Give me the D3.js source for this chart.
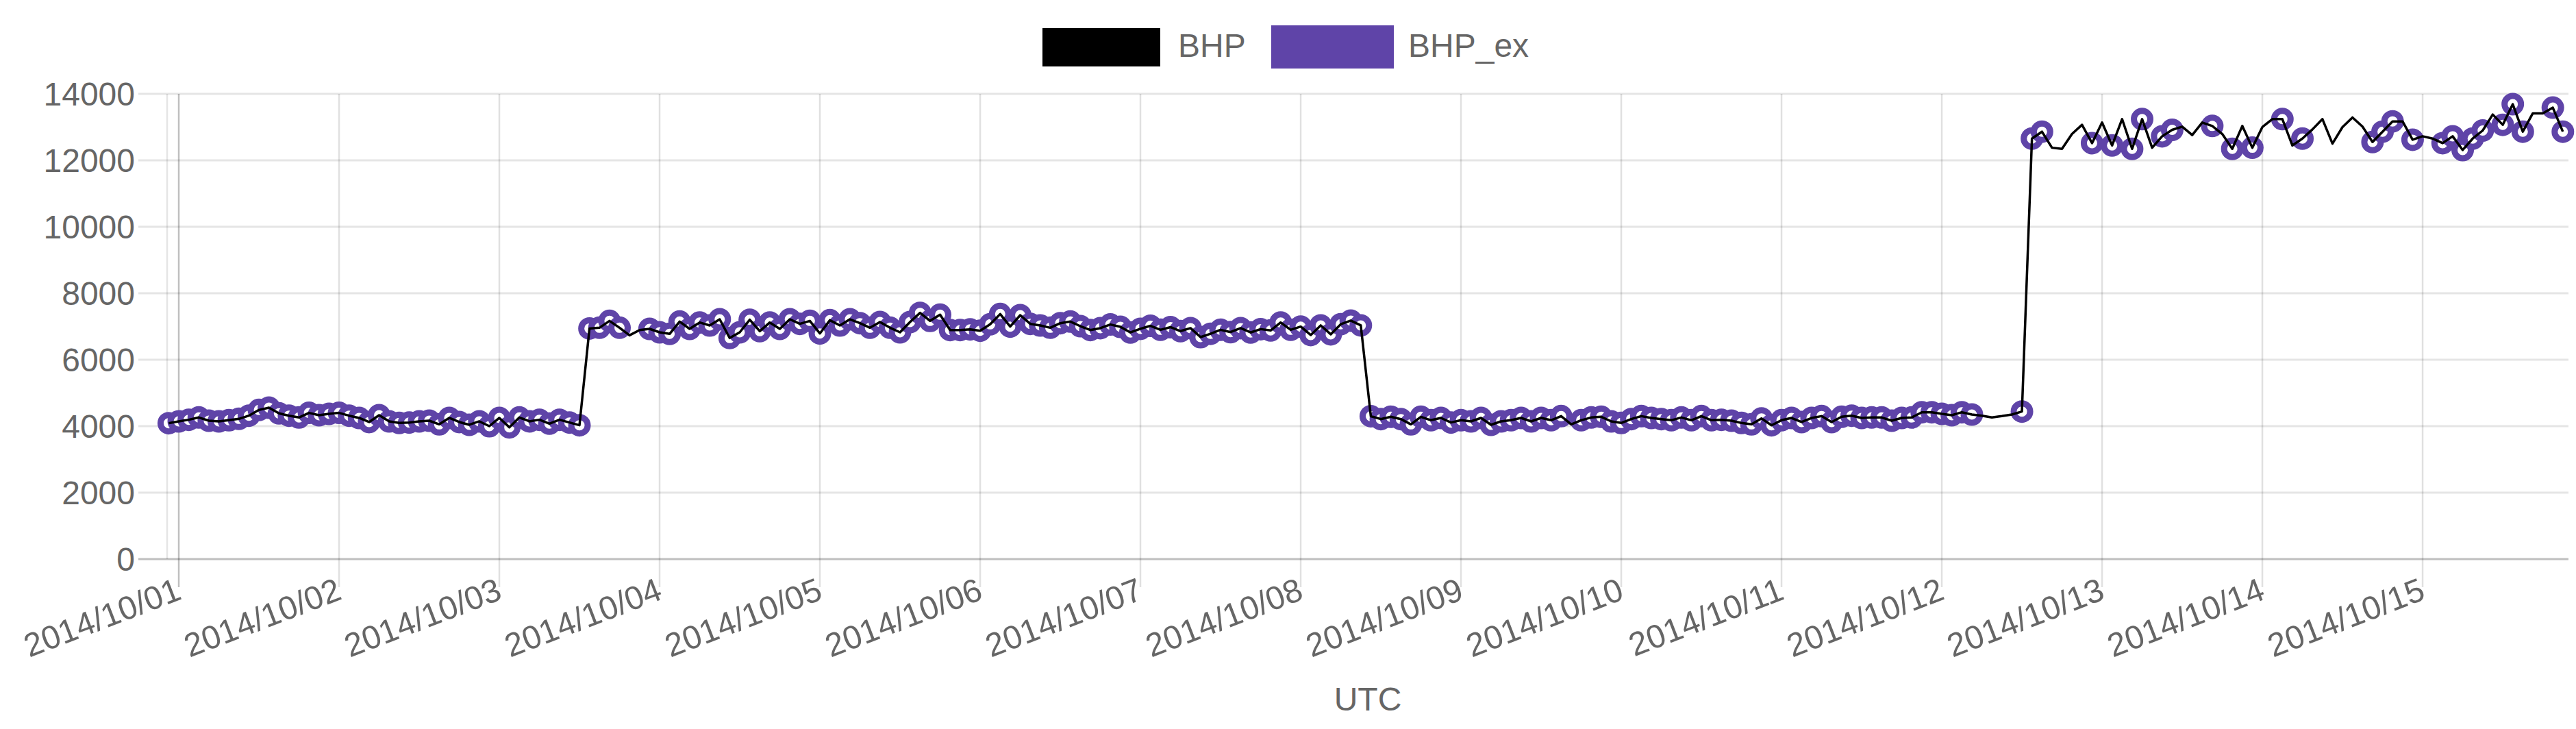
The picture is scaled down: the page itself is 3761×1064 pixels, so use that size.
<!DOCTYPE html>
<html>
<head>
<meta charset="utf-8">
<script src="https://cdn.jsdelivr.net/npm/d3@7"></script>
<style>
  html, body { margin: 0; padding: 0; background: #fff; }
  svg { display: block; font-family: "Liberation Sans", Arial, Helvetica, sans-serif; }
</style>
</head>
<body>
<svg id="chart" width="3761" height="1064"></svg>
<script>
// ---------------- data ----------------
const seriesNames = ["BHP", "BHP_ex"];
const seriesColors = ["#000000", "#5f44a8"];
const startTime = "2014-09-30T22:30:00Z";   // first sample (UTC)
const stepHours = 1.5;                       // sampling interval
const yTicks = [0, 2000, 4000, 6000, 8000, 10000, 12000, 14000];
const xTickLabels = ["2014/10/01","2014/10/02","2014/10/03","2014/10/04","2014/10/05",
  "2014/10/06","2014/10/07","2014/10/08","2014/10/09","2014/10/10","2014/10/11",
  "2014/10/12","2014/10/13","2014/10/14","2014/10/15"];
const xAxisTitle = "UTC";

const bhp = [
  4090,4145,4193,4262,4165,4145,4180,4220,4316,4488,
  4557,4385,4316,4262,4400,4330,4372,4400,4316,4248,
  4125,4330,4145,4097,4110,4145,4165,4055,4248,4125,
  4042,4145,4000,4248,3966,4262,4145,4193,4076,4193,
  4110,4028,
  6940,6962,7168,6962,6735,6893,6928,6825,6777,7148,
  6928,7120,7031,7216,6653,6825,7203,6859,7120,6928,
  7216,7079,7168,6790,7189,7031,7216,7100,6962,7134,
  6962,6825,7134,7409,7168,7354,6893,6893,6914,6873,
  7065,7374,6996,7340,7079,7031,6962,7100,7148,7010,
  6893,
  6950,7060,6990,6820,6930,7020,6900,6980,6860,6950,
  6680,6780,6900,6830,6950,6820,6920,6880,7120,6900,
  6996,6744,7032,6765,7068,7177,7032,
  4300,4213,4282,4213,4055,4282,4179,4247,4110,4179,
  4144,4247,4041,4144,4179,4247,4144,4247,4179,4302,
  4055,4179,4261,4282,4144,4096,4213,4302,4247,4213,
  4179,4261,4179,4302,4179,4192,4165,4096,4055,4234,
  4027,4179,4247,4124,4247,4302,4124,4282,4316,4247,
  4261,4261,4165,4247,4261,4419,4419,4371,4330,4419,
  4350,4316,4261,4302,4350,4440,
  12655,12862,12379,12345,12793,13069,12517,13138,12448,13241,
  12345,13241,12379,12724,12917,13014,12759,13138,13034,12793,
  12345,13034,12379,13000,13241,13241,12448,12655,12931,13241,
  12503,13000,13290,13014,12552,12862,13172,13172,12621,12724,
  12655,12517,12724,12310,12655,12897,13379,13069,13690,12862,
  13414,13414,13586,12862
];

const bhpEx = [
  4090,4145,4193,4262,4165,4145,4180,4220,4316,4488,
  4557,4385,4316,4262,4400,4330,4372,4400,4316,4248,
  4125,4330,4145,4097,4110,4145,4165,4055,4248,4125,
  4042,4145,4000,4248,3966,4262,4145,4193,4076,4193,
  4110,4028,
  6940,6962,7168,6962,null,null,6928,6825,6777,7148,
  6928,7120,7031,7216,6653,6825,7203,6859,7120,6928,
  7216,7079,7168,6790,7189,7031,7216,7100,6962,7134,
  6962,6825,7134,7409,7168,7354,6893,6893,6914,6873,
  7065,7374,6996,7340,7079,7031,6962,7100,7148,7010,
  6893,
  6950,7060,6990,6820,6930,7020,6900,6980,6860,6950,
  6680,6780,6900,6830,6950,6820,6920,6880,7120,6900,
  6996,6744,7032,6765,7068,7177,7032,
  4300,4213,4282,4213,4055,4282,4179,4247,4110,4179,
  4144,4247,4041,4144,4179,4247,4144,4247,4179,4302,
  null,4179,4261,4282,4144,4096,4213,4302,4247,4213,
  4179,4261,4179,4302,4179,4192,4165,4096,4055,4234,
  4027,4179,4247,4124,4247,4302,4124,4282,4316,4247,
  4261,4261,4165,4247,4261,4419,4419,4371,4330,4419,
  4350,null,null,null,null,4440,
  12655,12862,null,null,null,null,12517,null,12448,null,
  12345,13241,null,12724,12917,null,null,null,13034,null,
  12345,null,12379,null,null,13241,null,12655,null,null,
  null,null,null,null,12552,12862,13172,null,12621,null,
  null,12517,12724,12310,12655,12897,null,13069,13690,12862,
  null,null,13586,12862
];

// ---------------- layout ----------------
const plotLeft = 244, plotRight = 3750, plotTop = 137, plotBottom = 816;
const textColor = "#666";
const fontSize = 48;

const t0 = new Date(startTime);
const times = bhp.map((_, i) => new Date(t0.getTime() + i * stepHours * 3600e3));

const x = d3.scaleUtc()
  .domain([times[0], times[times.length - 1]])
  .range([246.4, 3741.8]);
const y = d3.scaleLinear().domain([0, 14000]).range([plotBottom, plotTop]);

const svg = d3.select("#chart");
svg.append("rect").attr("width", 3761).attr("height", 1064).attr("fill", "#fff");

// horizontal gridlines + y labels
const gY = svg.append("g");
yTicks.forEach(v => {
  gY.append("line")
    .attr("x1", 202).attr("x2", plotRight)
    .attr("y1", y(v)).attr("y2", y(v))
    .attr("stroke", v === 0 ? "rgba(0,0,0,0.25)" : "rgba(0,0,0,0.1)")
    .attr("stroke-width", 3);
  gY.append("text")
    .attr("x", 197).attr("y", y(v)).attr("dy", "0.35em")
    .attr("text-anchor", "end")
    .attr("fill", textColor).attr("font-size", fontSize)
    .text(v);
});

// left border of chart area
svg.append("line")
  .attr("x1", plotLeft).attr("x2", plotLeft)
  .attr("y1", plotTop).attr("y2", plotBottom)
  .attr("stroke", "rgba(0,0,0,0.1)").attr("stroke-width", 2.5);

// vertical gridlines + x labels
const parseDay = d3.utcParse("%Y/%m/%d");
const gX = svg.append("g");
xTickLabels.forEach((lab, i) => {
  const px = x(parseDay(lab));
  gX.append("line")
    .attr("x1", px).attr("x2", px)
    .attr("y1", plotTop).attr("y2", 857)
    .attr("stroke", i === 0 ? "rgba(0,0,0,0.25)" : "rgba(0,0,0,0.12)")
    .attr("stroke-width", 2.5);
  gX.append("text")
    .attr("transform", `translate(${px},${858}) rotate(-21)`)
    .attr("dy", "0.35em")
    .attr("text-anchor", "end")
    .attr("fill", textColor).attr("font-size", fontSize)
    .text(lab);
});

// x axis title
svg.append("text")
  .attr("x", (plotLeft + plotRight) / 2).attr("y", 1037)
  .attr("text-anchor", "middle")
  .attr("fill", textColor).attr("font-size", fontSize)
  .text(xAxisTitle);

// BHP_ex points (drawn beneath the line)
const exPts = bhpEx.map((v, i) => ({ t: times[i], v })).filter(d => d.v !== null);
svg.append("g").selectAll("circle")
  .data(exPts).join("circle")
  .attr("cx", d => x(d.t)).attr("cy", d => y(d.v))
  .attr("r", 12)
  .attr("fill", "#fff")
  .attr("stroke", seriesColors[1])
  .attr("stroke-width", 9);

// BHP line
const line = d3.line().x((d, i) => x(times[i])).y(d => y(d));
svg.append("path")
  .datum(bhp)
  .attr("d", line)
  .attr("fill", "none")
  .attr("stroke", seriesColors[0])
  .attr("stroke-width", 3.5)
  .attr("stroke-linejoin", "round");

// legend
const leg = svg.append("g");
leg.append("rect").attr("x", 1526).attr("y", 45).attr("width", 164).attr("height", 48)
  .attr("fill", seriesColors[0]).attr("stroke", seriesColors[0]).attr("stroke-width", 8);
leg.append("text").attr("x", 1720).attr("y", 83)
  .attr("fill", textColor).attr("font-size", fontSize).text(seriesNames[0]);
leg.append("rect").attr("x", 1862).attr("y", 43).attr("width", 167).attr("height", 51)
  .attr("fill", seriesColors[1]).attr("stroke", seriesColors[1]).attr("stroke-width", 12);
leg.append("text").attr("x", 2056).attr("y", 83)
  .attr("fill", textColor).attr("font-size", fontSize).text(seriesNames[1]);
</script>
</body>
</html>
